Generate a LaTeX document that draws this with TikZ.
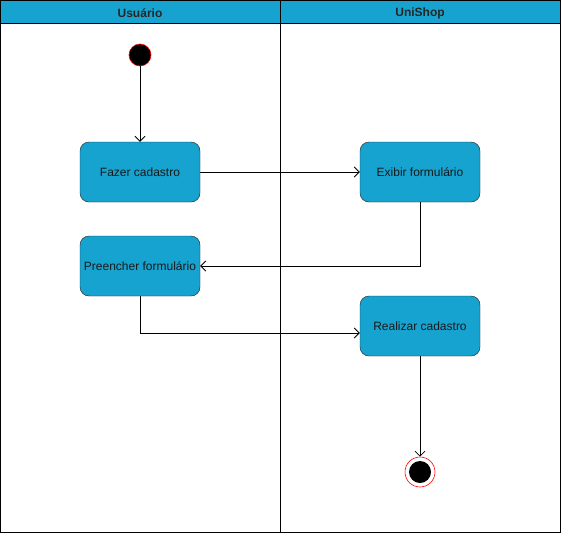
\documentclass[tikz,border=0pt]{standalone}
\usepackage{fontspec}
\setmainfont{Liberation Sans}
\usetikzlibrary{arrows.meta}
\definecolor{lane}{RGB}{22,163,207}
\definecolor{boxline}{RGB}{30,30,30}
\tikzset{
  act/.style={draw=boxline, fill=lane, rounded corners=9pt, minimum width=120pt, minimum height=60pt, inner sep=0pt, font=\fontsize{12pt}{14pt}\selectfont, text=black!90},
  flow/.style={draw=black, line width=0.8pt, -{Straight Barb[length=5pt,width=10pt,line width=0.8pt]}},
  hdr/.style={font=\bfseries\fontsize{12pt}{14pt}\selectfont, text=black!85}
}
\begin{document}
\begin{tikzpicture}[x=1pt,y=-1pt]
\useasboundingbox (0,0) rectangle (561,533);
% lanes
\fill[lane] (0.5,0.5) rectangle (560.5,23);
\draw[line width=1pt] (0.5,0.5) rectangle (560.5,532.5);
\draw[line width=1pt] (0.5,23) -- (560.5,23);
\draw[line width=1pt] (280.5,0.5) -- (280.5,532.5);
\node[hdr] (h1) at (140,13) {Usuário};
\node[hdr] (h2) at (420,13) {UniShop};
% nodes
\node[circle, fill=black, draw=red, line width=0.6pt, minimum size=22pt, inner sep=0pt] (start) at (140,55) {};
\node[act] (fazer) at (140,172) {Fazer cadastro};
\node[act] (exibir) at (420,172) {Exibir formulário};
\node[act] (pre) at (140,266) {Preencher formulário};
\node[act] (real) at (420,326) {Realizar cadastro};
\node[circle, draw=red, fill=white, line width=0.6pt, minimum size=30pt, inner sep=0pt] (end) at (420,472) {};
\fill[black] (end.center) circle (11pt);
% connectors
\draw[flow] (start) -- (fazer);
\draw[flow] (fazer) -- (exibir);
\draw[flow] (exibir.south) |- (pre.east);
\draw[flow] (pre.south) |- ([yshift=-7pt]real.west);
\draw[flow] (real) -- (end);
\end{tikzpicture}
\end{document}
